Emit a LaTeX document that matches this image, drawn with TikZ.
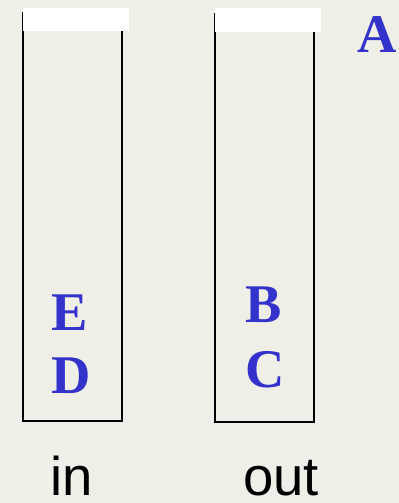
\documentclass[tikz,border=0pt]{standalone}
\usepackage{fontspec}
\setmainfont{Liberation Serif}
\newfontfamily\labelfont{Liberation Sans}
\usetikzlibrary{positioning}
\definecolor{paper}{RGB}{239,238,231}
\definecolor{letterblue}{RGB}{51,51,204}

\begin{document}
\begin{tikzpicture}[
    tube/.style={draw, line width=1.1pt, minimum width=1.98cm, minimum height=8.16cm, inner sep=0pt},
    tubecap/.style={fill=white, draw=none, minimum width=2.12cm, minimum height=0.47cm, inner sep=0pt},
    letter/.style={text=letterblue, font=\fontsize{31}{31}\selectfont\bfseries, anchor=base, inner sep=0pt},
    caption/.style={font=\labelfont\fontsize{31}{31}\selectfont, anchor=base, inner sep=0pt}]

    % Background and frame
    \fill[paper] (0,0) rectangle (7.98,10.06);
    \useasboundingbox (0,0) rectangle (7.98,10.06);

    % The two tubes
    \node[tube] (intube) at (1.45,5.72) {};
    \node[tube] (outtube) at (5.29,5.70) {};

    % White caps on the open ends
    \node[tubecap, anchor=south west] (incap) at (0.45,9.43) {};
    \node[tubecap, anchor=south west] (outcap) at (4.29,9.42) {};

    % Letters in the tubes
    \node[letter] (D) at (1.42,2.20) {D};
    \node[letter] (E) at (1.39,3.46) {E};
    \node[letter] (C) at (5.31,2.30) {C};
    \node[letter] (B) at (5.28,3.60) {B};

    % Letter waiting outside
    \node[letter] (A) at (7.54,9.02) {A};

    % Captions
    \node[caption] (inlabel) at (1.44,0.14) {in};
    \node[caption] (outlabel) at (5.62,0.15) {out};

\end{tikzpicture}
\end{document}
